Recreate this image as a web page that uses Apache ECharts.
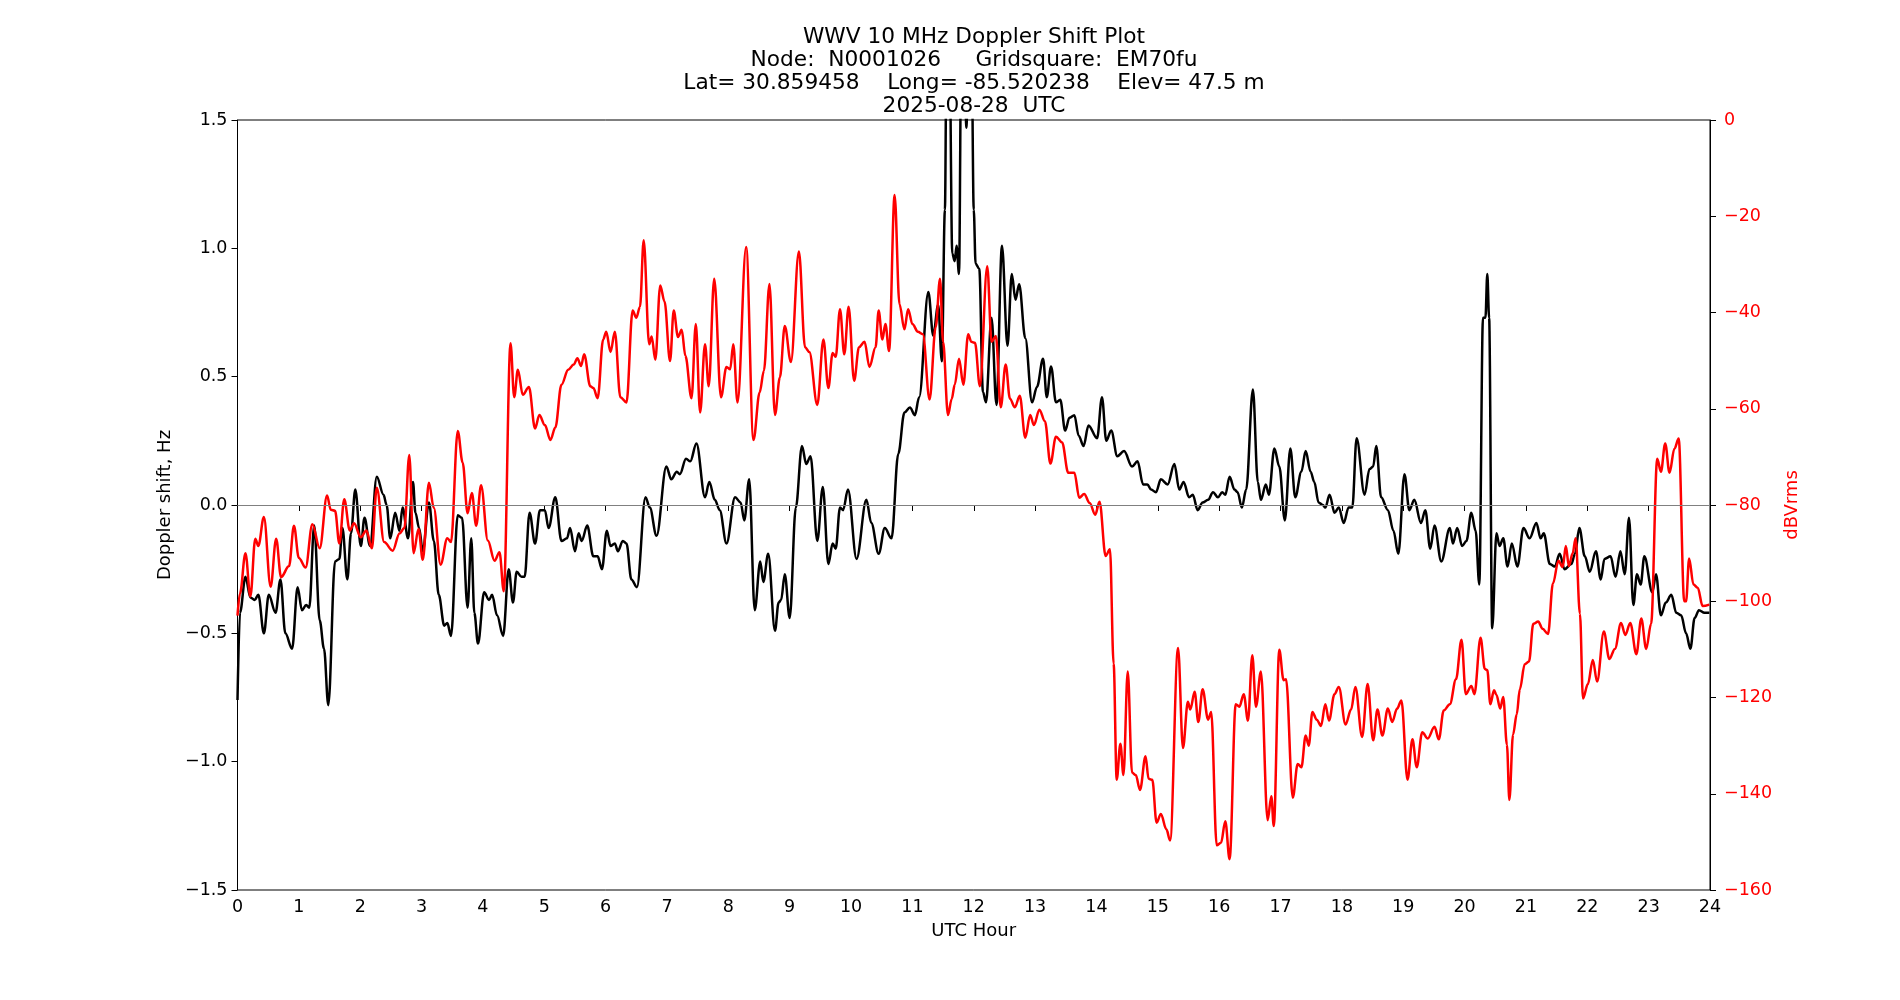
<!DOCTYPE html>
<html>
<head>
<meta charset="utf-8">
<script src="https://cdn.jsdelivr.net/npm/echarts@6/dist/echarts.min.js"></script>
<style>
html,body{margin:0;padding:0;background:#fff;}
#chart{width:1900px;height:1000px;}
</style>
</head>
<body>
<div id="chart"></div>
<script>
const titleLines = [
  'WWV 10 MHz Doppler Shift Plot',
  'Node:  N0001026     Gridsquare:  EM70fu',
  'Lat= 30.859458    Long= -85.520238    Elev= 47.5 m',
  '2025-08-28  UTC'
];
const xAxisName = 'UTC Hour';
const leftAxisName = 'Doppler shift, Hz';
const rightAxisName = 'dBVrms';

const dopplerHours = [0.00,0.04,0.13,0.21,0.28,0.34,0.43,0.51,0.62,0.70,0.78,0.89,0.98,1.05,1.12,1.17,1.25,1.34,1.41,1.48,1.59,1.66,1.71,1.79,1.85,1.92,2.01,2.07,2.16,2.27,2.38,2.43,2.49,2.57,2.64,2.69,2.78,2.86,2.90,2.96,3.02,3.12,3.20,3.28,3.37,3.42,3.48,3.59,3.66,3.75,3.81,3.86,3.92,4.02,4.10,4.15,4.23,4.33,4.42,4.49,4.55,4.63,4.68,4.76,4.85,4.93,5.01,5.07,5.18,5.28,5.37,5.42,5.50,5.56,5.61,5.70,5.80,5.87,5.94,6.02,6.08,6.15,6.20,6.28,6.34,6.42,6.51,6.65,6.72,6.83,6.99,7.07,7.16,7.21,7.31,7.38,7.48,7.62,7.69,7.78,7.86,7.97,8.11,8.20,8.26,8.34,8.43,8.52,8.57,8.65,8.76,8.82,8.86,8.92,9.00,9.10,9.20,9.27,9.34,9.45,9.54,9.63,9.70,9.75,9.82,9.87,9.95,10.09,10.25,10.33,10.45,10.55,10.66,10.77,10.87,10.96,11.04,11.11,11.26,11.34,11.42,11.48,11.53,11.56,11.60,11.65,11.69,11.72,11.76,11.80,11.84,11.88,11.92,11.96,12.00,12.03,12.09,12.15,12.20,12.29,12.37,12.46,12.55,12.62,12.68,12.74,12.84,12.95,13.03,13.13,13.19,13.26,13.34,13.41,13.49,13.56,13.64,13.71,13.79,13.87,14.01,14.09,14.16,14.24,14.34,14.45,14.58,14.67,14.76,14.83,14.89,14.97,15.05,15.16,15.27,15.35,15.42,15.51,15.57,15.65,15.73,15.82,15.90,15.98,16.05,16.10,16.17,16.25,16.30,16.37,16.44,16.55,16.63,16.68,16.76,16.81,16.90,16.98,17.07,17.16,17.24,17.34,17.41,17.49,17.55,17.62,17.69,17.73,17.80,17.88,17.95,18.03,18.11,18.17,18.24,18.37,18.45,18.51,18.56,18.64,18.75,18.84,18.92,19.02,19.10,19.18,19.29,19.36,19.44,19.51,19.62,19.76,19.81,19.88,19.96,20.03,20.11,20.18,20.24,20.30,20.34,20.37,20.40,20.45,20.52,20.57,20.63,20.70,20.77,20.86,20.96,21.06,21.17,21.24,21.29,21.39,21.47,21.55,21.63,21.74,21.80,21.87,21.96,22.04,22.14,22.22,22.28,22.38,22.46,22.54,22.61,22.68,22.75,22.81,22.87,22.93,23.06,23.12,23.20,23.28,23.37,23.45,23.53,23.61,23.68,23.75,23.82,23.91,23.99];
const dopplerShift = [-0.76,-0.42,-0.28,-0.36,-0.37,-0.35,-0.50,-0.35,-0.42,-0.29,-0.50,-0.56,-0.32,-0.41,-0.39,-0.40,-0.08,-0.45,-0.56,-0.78,-0.22,-0.21,-0.09,-0.29,-0.11,0.06,-0.16,-0.05,-0.16,0.11,0.04,0.00,-0.13,-0.03,-0.10,-0.01,-0.13,0.09,-0.03,-0.09,-0.18,0.01,-0.14,-0.35,-0.47,-0.46,-0.51,-0.04,-0.05,-0.40,-0.13,-0.42,-0.54,-0.34,-0.37,-0.35,-0.43,-0.51,-0.25,-0.38,-0.26,-0.28,-0.28,-0.03,-0.15,-0.02,-0.02,-0.09,0.03,-0.14,-0.13,-0.09,-0.18,-0.11,-0.14,-0.08,-0.20,-0.20,-0.25,-0.10,-0.16,-0.15,-0.18,-0.14,-0.15,-0.29,-0.32,0.03,-0.01,-0.12,0.15,0.10,0.13,0.12,0.18,0.17,0.24,0.03,0.09,0.02,-0.02,-0.15,0.03,0.01,-0.06,0.10,-0.41,-0.22,-0.30,-0.19,-0.49,-0.38,-0.37,-0.27,-0.44,-0.01,0.23,0.16,0.19,-0.14,0.07,-0.23,-0.15,-0.17,-0.01,-0.02,0.06,-0.21,0.02,-0.07,-0.19,-0.09,-0.13,0.20,0.36,0.38,0.35,0.42,0.83,0.66,0.78,0.56,1.15,1.90,1.90,0.98,0.95,1.01,0.90,1.90,1.90,1.47,1.90,1.90,1.15,0.94,0.92,0.44,0.40,0.73,0.39,1.01,0.62,0.90,0.80,0.86,0.65,0.40,0.46,0.57,0.42,0.54,0.40,0.41,0.29,0.34,0.35,0.27,0.23,0.31,0.26,0.42,0.25,0.29,0.19,0.21,0.15,0.17,0.08,0.08,0.06,0.05,0.10,0.08,0.16,0.06,0.09,0.03,0.04,-0.02,0.01,0.02,0.05,0.03,0.05,0.04,0.11,0.06,0.05,-0.01,0.06,0.45,0.09,0.02,0.08,0.04,0.22,0.15,-0.06,0.22,0.03,0.13,0.21,0.13,0.09,0.01,0.00,-0.01,0.04,-0.03,-0.01,-0.07,-0.01,-0.01,0.26,0.04,0.14,0.15,0.23,0.03,-0.02,-0.10,-0.19,0.12,-0.02,0.02,-0.07,-0.02,-0.17,-0.08,-0.22,-0.09,-0.15,-0.09,-0.16,-0.14,-0.03,-0.10,-0.31,0.73,0.73,0.90,0.73,-0.48,-0.11,-0.16,-0.13,-0.24,-0.15,-0.24,-0.09,-0.13,-0.07,-0.13,-0.11,-0.23,-0.24,-0.19,-0.25,-0.23,-0.19,-0.09,-0.20,-0.26,-0.18,-0.29,-0.21,-0.20,-0.28,-0.18,-0.27,-0.05,-0.39,-0.27,-0.31,-0.20,-0.34,-0.27,-0.43,-0.38,-0.35,-0.42,-0.43,-0.50,-0.56,-0.44,-0.41,-0.42,-0.42];

const powerHours = [0.00,0.04,0.13,0.21,0.29,0.34,0.43,0.54,0.63,0.71,0.84,0.92,1.00,1.11,1.22,1.34,1.46,1.52,1.59,1.66,1.74,1.83,1.90,2.01,2.10,2.19,2.27,2.39,2.53,2.64,2.72,2.80,2.87,2.95,3.02,3.12,3.20,3.31,3.42,3.48,3.59,3.67,3.75,3.82,3.89,3.97,4.08,4.19,4.27,4.34,4.45,4.51,4.57,4.65,4.75,4.85,4.92,5.01,5.10,5.18,5.28,5.39,5.48,5.54,5.60,5.65,5.75,5.80,5.87,5.96,6.01,6.08,6.15,6.24,6.34,6.44,6.50,6.56,6.62,6.71,6.75,6.81,6.89,6.96,7.05,7.11,7.18,7.24,7.30,7.40,7.47,7.54,7.62,7.68,7.77,7.88,7.97,8.03,8.08,8.15,8.29,8.41,8.51,8.58,8.67,8.76,8.84,8.92,9.02,9.15,9.25,9.32,9.45,9.55,9.63,9.70,9.75,9.82,9.89,9.96,10.05,10.13,10.22,10.30,10.40,10.45,10.51,10.56,10.62,10.71,10.79,10.87,10.93,11.00,11.09,11.17,11.28,11.38,11.45,11.50,11.58,11.64,11.69,11.76,11.83,11.91,11.96,12.02,12.10,12.22,12.29,12.36,12.44,12.52,12.59,12.67,12.75,12.84,12.92,12.98,13.07,13.16,13.25,13.34,13.44,13.54,13.64,13.72,13.80,13.89,13.98,14.05,14.15,14.22,14.28,14.33,14.39,14.44,14.51,14.58,14.64,14.71,14.80,14.85,14.91,14.98,15.05,15.14,15.20,15.33,15.41,15.49,15.53,15.60,15.66,15.73,15.82,15.87,15.96,16.03,16.10,16.17,16.27,16.33,16.40,16.47,16.54,16.60,16.68,16.79,16.85,16.89,16.98,17.05,17.09,17.20,17.28,17.34,17.41,17.46,17.52,17.59,17.66,17.73,17.79,17.88,17.95,18.06,18.15,18.22,18.33,18.42,18.51,18.58,18.66,18.75,18.82,18.90,18.97,19.07,19.15,19.22,19.31,19.40,19.51,19.58,19.66,19.76,19.86,19.95,20.02,20.11,20.16,20.26,20.33,20.37,20.42,20.48,20.52,20.58,20.63,20.69,20.73,20.79,20.85,20.90,20.98,21.05,21.12,21.20,21.27,21.36,21.44,21.53,21.60,21.65,21.70,21.76,21.81,21.88,21.93,22.01,22.09,22.16,22.27,22.36,22.45,22.55,22.62,22.70,22.80,22.88,22.96,23.04,23.14,23.20,23.27,23.34,23.42,23.49,23.58,23.61,23.66,23.73,23.80,23.88,23.99];
const powerDb = [-103,-98.4,-90,-99,-87,-88.5,-82.5,-97,-87,-95,-92.7,-84.3,-91,-93,-84,-89,-78,-81,-81.2,-88,-78.8,-85.3,-83.8,-86.7,-85.3,-89,-76.4,-87.7,-89.5,-85.9,-84.8,-69.6,-90,-85,-91.4,-75.4,-80.6,-92.4,-86.9,-87.7,-64.6,-71.2,-81.7,-77.5,-84.3,-75.9,-87.4,-91.6,-89.8,-97.9,-46.4,-57.6,-51.9,-57.1,-55.5,-64.1,-61.3,-63.4,-66.5,-63.9,-55,-51.9,-50.8,-49.5,-51.1,-48.7,-55.3,-55.7,-57.8,-45.6,-44.0,-48.2,-44.0,-57.6,-58.7,-39.6,-41.1,-38.8,-25.0,-46.6,-45,-49.8,-34.4,-37.7,-50.1,-39.6,-45.1,-43.6,-49.0,-57.8,-42.4,-60.8,-46.6,-55.3,-33.0,-57.6,-51.3,-51.8,-46.6,-58.7,-26.4,-66.5,-56.6,-52.1,-34.1,-61.3,-53.5,-42.8,-50.3,-27.3,-47.2,-48.2,-59.2,-45.6,-55.7,-48.4,-49.2,-39.3,-48.7,-38.8,-54.2,-47.2,-46.1,-51.3,-47.2,-39.6,-45.6,-42.4,-48.0,-15.6,-38.3,-43.5,-39.3,-42.4,-44.0,-44.5,-58.1,-43.0,-33.0,-46.1,-61.3,-58,-55,-49.6,-55,-44.5,-46.1,-46.3,-55.3,-30.4,-46.1,-44.9,-59.7,-50.8,-57.9,-59.7,-57.3,-66,-61.3,-63.4,-60.2,-62.6,-71.4,-65.8,-67,-73.3,-73.3,-78.5,-77.7,-79.6,-82,-79.3,-90.6,-89.2,-113,-137.1,-129.6,-136.1,-114.6,-135.6,-136.1,-139.2,-132.2,-136.9,-137.1,-146,-144.2,-147.4,-149.7,-109.7,-130.5,-120.9,-122.5,-118.8,-125.1,-118.3,-124.6,-123,-150.7,-150.2,-145.7,-153.6,-121.4,-121.9,-119.3,-124.8,-111.2,-121.9,-114.6,-145.5,-140.5,-146.7,-110.1,-116.4,-116.2,-140.8,-133.8,-134.5,-127.9,-130,-123,-124.6,-125.9,-121.4,-124.8,-119.3,-117.8,-125.6,-122.5,-117.8,-128.2,-117.2,-128.9,-122.5,-127.9,-122.3,-125.1,-122.3,-120.6,-137.1,-128.7,-134.5,-127.2,-128.5,-126.1,-128.7,-122.7,-121.4,-116.2,-108,-119.3,-117.6,-119.3,-107.6,-114.1,-114.3,-121.4,-118.5,-119.5,-122.3,-119.9,-129.8,-141.3,-127.7,-123.5,-118.3,-113.1,-112.5,-104.7,-104.2,-105.7,-106.8,-96.3,-91.6,-92.9,-88.5,-92.7,-90.1,-86.9,-102.6,-120.2,-117.2,-112.2,-116.7,-106.3,-112,-109.9,-104.5,-107,-104.5,-111,-103.6,-109.9,-104.7,-70.4,-73.1,-67.2,-73.3,-68.3,-66.2,-100,-100,-91.1,-96.5,-97.2,-101,-100.7];

const FONT = 'DejaVu Sans';
const minus = s => String(s).replace('-', '\u2212');

const dopplerData = dopplerHours.map((h, i) => [h, dopplerShift[i]]);
const powerData = powerHours.map((h, i) => [h, powerDb[i]]);

const chart = echarts.init(document.getElementById('chart'), null, {renderer: 'canvas'});
chart.setOption({
  animation: false,
  backgroundColor: '#ffffff',
  title: {
    text: titleLines.join('\n'),
    left: 969,
    top: 21,
    textAlign: 'center',
    textStyle: {fontFamily: FONT, fontSize: 21.7, fontWeight: 'normal', color: '#000', lineHeight: 23}
  },
  grid: {
    left: 237.5, right: 190, top: 120, bottom: 110,
    show: true, borderColor: '#000', borderWidth: 1, backgroundColor: 'transparent',
    containLabel: false
  },
  xAxis: {
    type: 'value', min: 0, max: 24, interval: 1,
    name: xAxisName, nameLocation: 'middle', nameGap: 32,
    nameTextStyle: {fontFamily: FONT, fontSize: 18, color: '#000'},
    axisLine: {show: true, lineStyle: {color: '#000', width: 1}},
    axisTick: {show: true, length: 6, lineStyle: {color: '#000', width: 1}},
    axisLabel: {fontFamily: FONT, fontSize: 17.5, color: '#000', margin: 8},
    splitLine: {show: false}
  },
  yAxis: [{
    type: 'value', min: -1.5, max: 1.5, interval: 0.5, position: 'left',
    name: leftAxisName, nameLocation: 'middle', nameGap: 55, nameRotate: 90,
    nameTextStyle: {fontFamily: FONT, fontSize: 18, color: '#000'},
    axisLine: {show: true, lineStyle: {color: '#000', width: 1}},
    axisTick: {show: true, length: 6, lineStyle: {color: '#000', width: 1}},
    axisLabel: {fontFamily: FONT, fontSize: 17.5, color: '#000', margin: 10,
      formatter: v => minus(v.toFixed(1))},
    splitLine: {show: false}
  }, {
    type: 'value', min: -160, max: 0, interval: 20, position: 'right',
    name: rightAxisName, nameLocation: 'middle', nameGap: 59, nameRotate: 90,
    nameTextStyle: {fontFamily: FONT, fontSize: 18, color: '#ff0000'},
    axisLine: {show: true, lineStyle: {color: '#000', width: 1}},
    axisTick: {show: true, length: 6, lineStyle: {color: '#000', width: 1}},
    axisLabel: {fontFamily: FONT, fontSize: 17.5, color: '#ff0000', margin: 14,
      formatter: v => minus(Math.round(v))},
    splitLine: {show: false}
  }],
  series: [{
    name: 'Doppler', type: 'line', yAxisIndex: 0, data: dopplerData,
    showSymbol: false, smooth: 0.35, smoothMonotone: 'x', clip: true,
    lineStyle: {color: '#000', width: 2.5},
    markLine: {
      silent: true, symbol: 'none', label: {show: false},
      lineStyle: {color: '#808080', width: 1.2, type: 'solid'},
      data: [{yAxis: 0}]
    }
  }, {
    name: 'Power', type: 'line', yAxisIndex: 1, data: powerData,
    showSymbol: false, smooth: 0.35, smoothMonotone: 'x', clip: true,
    lineStyle: {color: '#ff0000', width: 2.5}
  }]
});
</script>
</body>
</html>
